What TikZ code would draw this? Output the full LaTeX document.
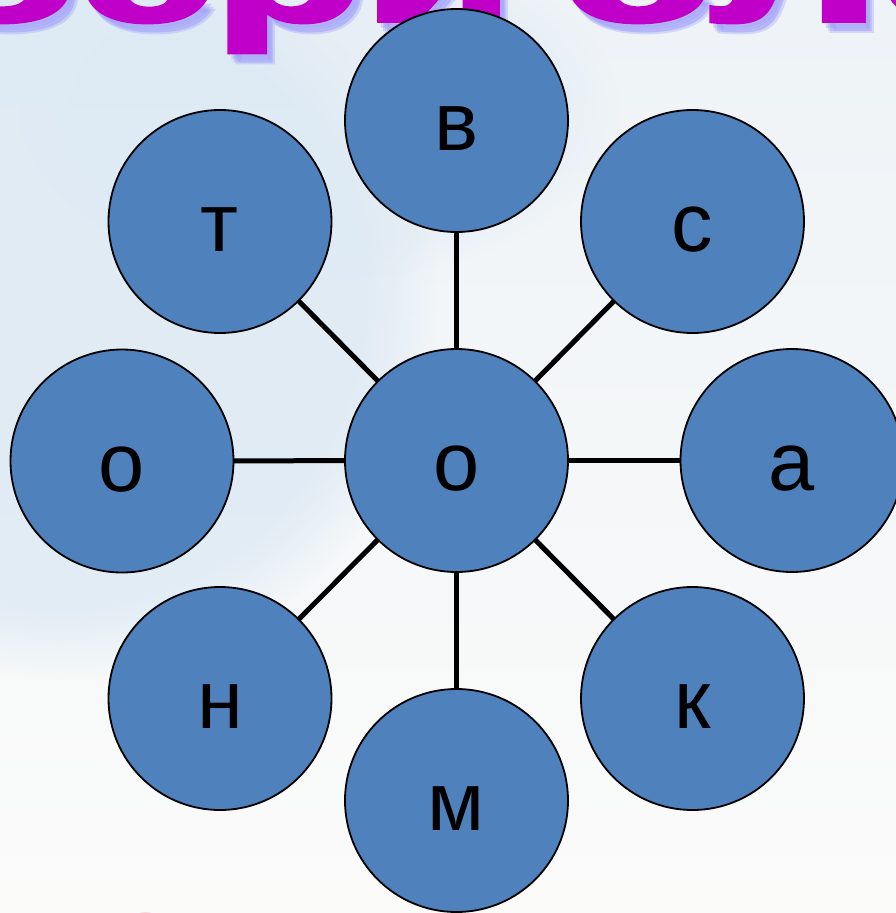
\documentclass[tikz,border=0pt]{standalone}
\usepackage{fontspec}
\setmainfont{Liberation Sans}
\newfontfamily\titlefont{Liberation Sans}[BoldFeatures={FakeBold=2.5}]
\usetikzlibrary{fadings}
\definecolor{ballblue}{RGB}{79,129,189}
\definecolor{bgtop}{RGB}{238,243,247}
\definecolor{bgbot}{RGB}{251,251,250}
\definecolor{bgblob}{RGB}{220,233,244}
\definecolor{titlemag}{RGB}{192,0,200}
\definecolor{titleglow}{RGB}{160,160,250}
\definecolor{lowred}{RGB}{250,125,125}
\pgfdeclarelayer{bglayer}
\pgfdeclarelayer{spokelayer}
\pgfsetlayers{bglayer,spokelayer,main}
\begin{document}
\begin{tikzpicture}[x=1pt,y=-1pt,
  ball/.style={circle, draw=black, line width=1.8pt, fill=ballblue,
    minimum size=223pt, inner sep=0pt,
    font=\fontsize{83}{83}\selectfont, text height=60pt, text depth=0pt},
  spoke/.style={line width=5pt, black},
  bigtitle/.style={anchor=base west, inner sep=0pt,
    font=\titlefont\bfseries\fontsize{245}{245}\selectfont},
  glowcopy/.style={bigtitle, text=titleglow, opacity=0.35}]
\useasboundingbox (0,0) rectangle (896,913);
\clip (0,0) rectangle (896,913);
\begin{pgfonlayer}{bglayer}
\fill[top color=bgtop, bottom color=bgbot] (0,0) rectangle (896,913);
\fill[bgblob, opacity=0.8, path fading=circle with fuzzy edge 20 percent] (60,300) ellipse (380pt and 380pt);
\fill[bgblob, opacity=0.4, path fading=circle with fuzzy edge 20 percent] (320,110) ellipse (300pt and 170pt);
% title fragments: glow then face
\foreach \dx/\dy in {4/5,6/8,8/10}
  \node[glowcopy] at ({-401+\dx},{21+\dy}) {\scalebox{1}[0.62]{Собери}};
\foreach \dx/\dy in {4/5,6/8,8/10}
  \node[glowcopy] at ({560+\dx},{21+\dy}) {\scalebox{1.1}[0.62]{слово}};
\node[bigtitle, text=titlemag] (titleA) at (-401,21) {\scalebox{1}[0.62]{Собери}};
\node[bigtitle, text=titlemag] (titleB) at (560,21) {\scalebox{1.1}[0.62]{слово}};
\node[anchor=base west, inner sep=0pt, text=lowred,
  font=\bfseries\fontsize{115}{115}\selectfont] (lowtext) at (18,993) {НОВЕ};
\end{pgfonlayer}
\node[ball] (o) at (456.5,460.5) {о};
\node[ball] (v) at (456.5,120.5) {в};
\node[ball] (t) at (220,221.5) {т};
\node[ball] (s) at (692.5,221.5) {с};
\node[ball] (ol) at (122,461) {о};
\node[ball] (a) at (792,460.5) {а};
\node[ball] (n) at (220,698.5) {н};
\node[ball] (k) at (692.5,698.5) {к};
\node[ball] (m) at (456.5,800.5) {м};
\begin{pgfonlayer}{spokelayer}
\foreach \x in {v,t,s,ol,a,n,k,m} \draw[spoke] (o.center) -- (\x.center);
\end{pgfonlayer}
\end{tikzpicture}
\end{document}
